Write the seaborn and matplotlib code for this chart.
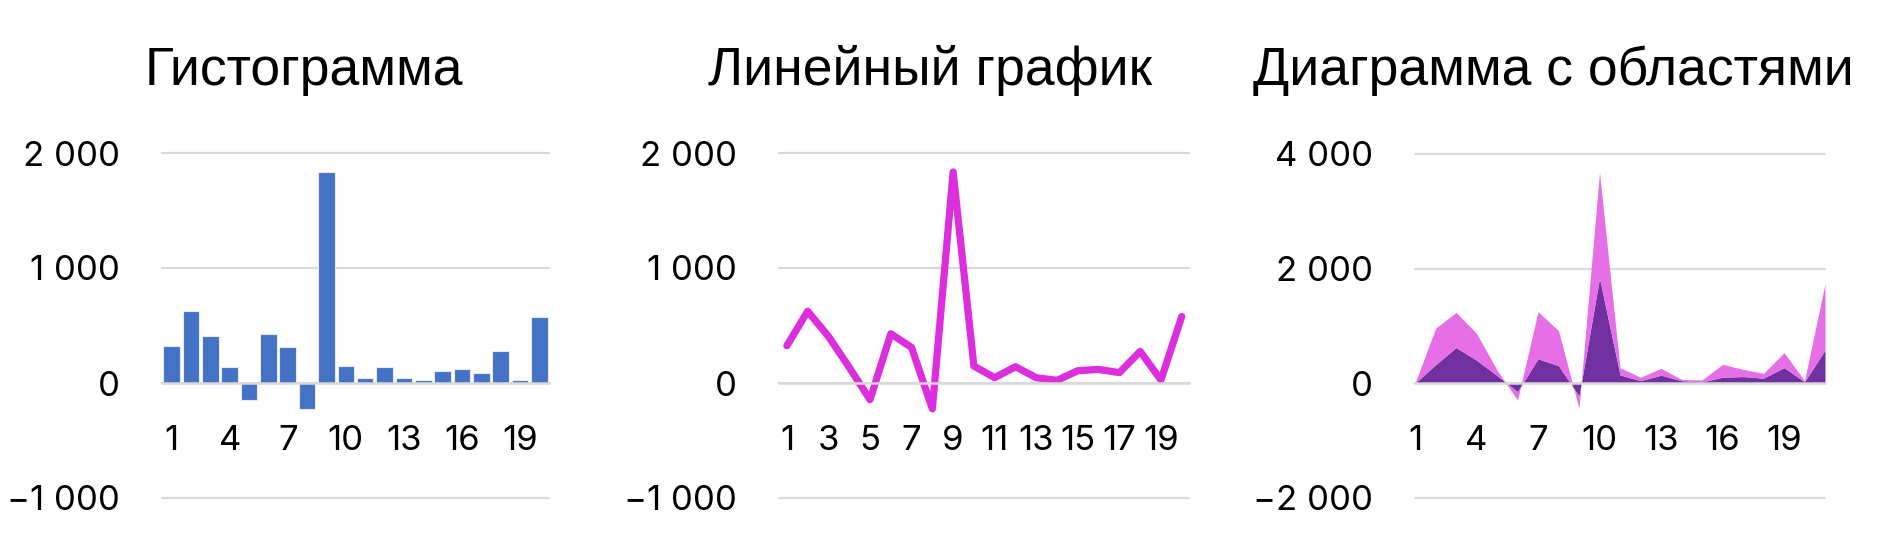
import matplotlib
matplotlib.use("Agg")
import matplotlib.pyplot as plt
import seaborn as sns
import pandas as pd
from matplotlib.ticker import FuncFormatter, FixedLocator

# ---------------- data ----------------
categories = list(range(1, 21))
bar_values = [324, 624, 405, 136, -145, 428, 309, -225, 1835, 147,
              46, 142, 46, 23, 107, 118, 90, 275, 26, 578]
line_values = [324, 624, 405, 136, -145, 428, 309, -225, 1835, 147,
               46, 142, 46, 23, 107, 118, 90, 275, 26, 578]
area_x = list(range(1, 22))
area_dark = [0, 324, 624, 405, 136, -145, 428, 309, -225, 1835, 147,
             46, 142, 46, 23, 107, 118, 90, 275, 26, 578]
area_light = [0, 635, 614, 467, 97, -146, 822, 610, -211, 1845, 126,
              59, 120, 24, 35, 224, 126, 84, 260, 21, 1155]

bar_ticks = [1, 4, 7, 10, 13, 16, 19]
line_ticks = [1, 3, 5, 7, 9, 11, 13, 15, 17, 19]
area_ticks = [1, 4, 7, 10, 13, 16, 19]
main_yticks = [-1000, 0, 1000, 2000]
area_yticks = [-2000, 0, 2000, 4000]
titles = ["Гистограмма", "Линейный график", "Диаграмма с областями"]

BLUE = "#4472C4"
MAGENTA = "#DC2EDC"
DARK_PURPLE = "#7030A0"
PINK = "#E66EE6"
GRID = "#D9D9D9"

# ---------------- style ----------------
sns.set_theme(style="white")
plt.rcParams["font.family"] = ["Inter", "DejaVu Sans"]

W, H = 1880, 544
fig = plt.figure(figsize=(W / 100, H / 100), dpi=100)


def fmt(v, pos=None):
    s = f"{int(round(v)):,}".replace(",", " ")
    return s.replace("-", "\u2212")


def box(left, right, top, bottom):
    return [left / W, 1 - bottom / H, (right - left) / W, (bottom - top) / H]


def style_axes(ax, yticks, xtick_len=0):
    ax.set_ylim(yticks[0], yticks[-1])
    ax.yaxis.set_major_locator(FixedLocator(yticks))
    ax.yaxis.set_major_formatter(FuncFormatter(fmt))
    ax.grid(axis="y", color=GRID, linewidth=1.6)
    ax.grid(axis="x", visible=False)
    ax.set_axisbelow(True)
    for s in ["top", "right", "left"]:
        ax.spines[s].set_visible(False)
    ax.spines["bottom"].set_position(("data", 0))
    ax.spines["bottom"].set_color(GRID)
    ax.spines["bottom"].set_linewidth(1.8)
    ax.tick_params(axis="y", length=0, pad=30, labelsize=25, labelcolor="black")
    ax.tick_params(axis="x", length=xtick_len, width=1.5, color=GRID,
                   pad=30 - xtick_len, labelsize=25, labelcolor="black",
                   direction="out")
    for gl in ax.get_ygridlines():
        gl.set_clip_on(False)
    ax.set_xlabel("")
    ax.set_ylabel("")


# ---- bar chart ----
ax1 = fig.add_axes(box(162, 549, 153, 498))
df_bar = pd.DataFrame({"cat": [str(c) for c in categories], "val": bar_values})
sns.barplot(data=df_bar, x="cat", y="val", color=BLUE, saturation=1,
            width=0.86, edgecolor="#E4EAF6", linewidth=0.8, ax=ax1)
style_axes(ax1, main_yticks)
ax1.set_xlim(-0.5, len(categories) - 0.5)
ax1.set_xticks([categories.index(t) for t in bar_ticks])
ax1.set_xticklabels([str(t) for t in bar_ticks])

# ---- line chart ----
ax2 = fig.add_axes(box(779, 1189, 153, 498))
df_line = pd.DataFrame({"x": categories, "y": line_values})
sns.lineplot(data=df_line, x="x", y="y", color=MAGENTA, linewidth=5.2, ax=ax2,
             solid_joinstyle="round", solid_capstyle="round")
style_axes(ax2, main_yticks)
ax2.set_xlim(categories[0] - 0.38, categories[-1] + 0.35)
ax2.set_xticks(line_ticks)
ax2.set_xticklabels([str(t) for t in line_ticks])

# ---- area chart ----
ax3 = fig.add_axes(box(1415, 1825, 154, 498))
ax3.stackplot(area_x, area_dark, area_light, colors=[DARK_PURPLE, PINK],
              linewidth=0)
style_axes(ax3, area_yticks, xtick_len=9)
ax3.set_xlim(area_x[0], area_x[-1])
ax3.set_xticks(area_x)
ax3.set_xticklabels([str(t) if t in area_ticks else "" for t in area_x])

# ---- titles ----
for cx, t in zip([304, 930, 1553], titles):
    fig.text(cx / W, 1 - 85 / H, t, ha="center", va="baseline",
             fontsize=38.5, family=["Liberation Sans", "DejaVu Sans"], color="black")

fig.savefig("out.png", dpi=100, facecolor="white")
